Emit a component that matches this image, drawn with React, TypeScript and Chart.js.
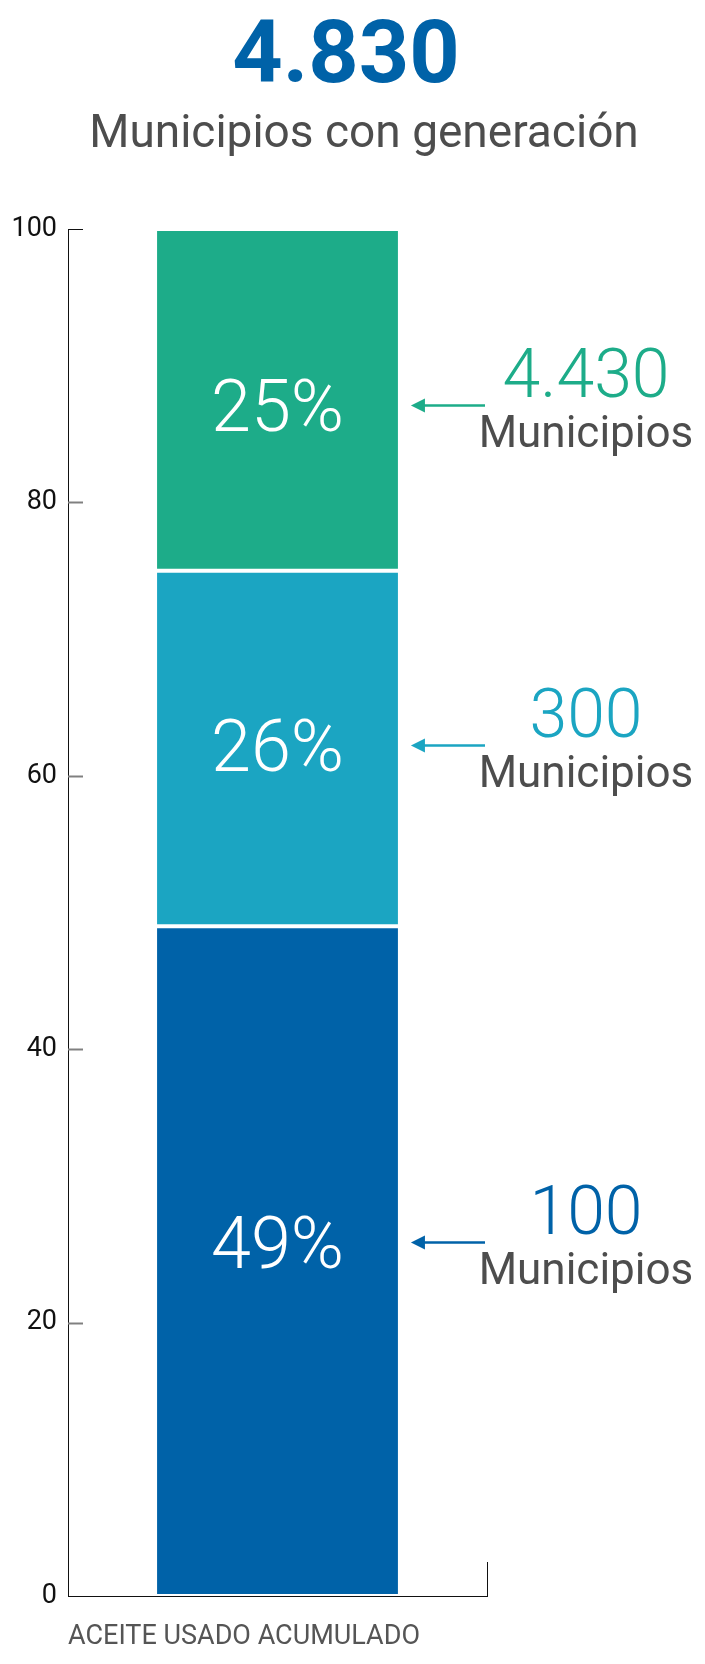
import { useEffect, useRef } from "react";
import { Chart, registerables } from "chart.js";

Chart.register(...registerables);

// values
const totalMunicipios = "4.830";
const subtitle = "Municipios con generación";
const axisTitle = "ACEITE USADO ACUMULADO";
const segmentShares = [49, 26, 25];
const segmentMunicipios = ["100", "300", "4.430"];
const segmentUnit = "Municipios";
const segmentColors = ["#0062a8", "#1ba5c2", "#1dac89"];

const FONT = "Roboto, 'Noto Sans', sans-serif";
// the callouts are not exactly on the segment middles in the original
const labelShift = [-19, -3, 5];

const annotate = {
  id: "annotate",
  afterDraw(chart: any) {
    const { ctx, chartArea } = chart;
    const yScale = chart.scales.y;
    ctx.save();

    // header
    ctx.textAlign = "center";
    ctx.textBaseline = "alphabetic";
    ctx.fillStyle = "#0062a8";
    ctx.font = `bold 88px ${FONT}`;
    ctx.fillText(totalMunicipios, 346, 82);
    ctx.fillStyle = "#4d4d4d";
    ctx.font = `400 46px ${FONT}`;
    ctx.fillText(subtitle, 364, 147);

    // short tick marks inside the plot
    yScale.ticks.forEach((t: any) => {
      if (t.value === 0) return;
      const y = Math.round(yScale.getPixelForValue(t.value)) + 0.5;
      ctx.beginPath();
      ctx.strokeStyle = t.value === 100 ? "#111" : "#808080";
      ctx.lineWidth = t.value === 100 ? 1 : 2;
      ctx.moveTo(chartArea.left, y);
      ctx.lineTo(chartArea.left + 15, y);
      ctx.stroke();
    });

    // small closing line at the right end of the x axis
    ctx.beginPath();
    ctx.strokeStyle = "#111";
    ctx.lineWidth = 1;
    ctx.moveTo(chartArea.right + 0.5, chartArea.bottom - 34);
    ctx.lineTo(chartArea.right + 0.5, chartArea.bottom);
    ctx.stroke();

    // segment labels and arrows
    chart.data.datasets.forEach((ds: any, i: number) => {
      const bar = chart.getDatasetMeta(i).data[0];
      if (!bar) return;
      const mid = (bar.y + bar.base) / 2 + labelShift[i];
      const barRight = bar.x + bar.width / 2;
      const ay = Math.round(mid) + 0.5;

      ctx.fillStyle = "#ffffff";
      ctx.font = `300 72px ${FONT}`;
      ctx.textAlign = "center";
      ctx.textBaseline = "middle";
      ctx.fillText(`${ds.data[0]}%`, bar.x, ay + 7);

      const tip = barRight + 13;
      const tail = chartArea.right - 2;
      ctx.strokeStyle = ds.backgroundColor;
      ctx.fillStyle = ds.backgroundColor;
      ctx.lineWidth = 2.5;
      ctx.beginPath();
      ctx.moveTo(tip + 10, ay);
      ctx.lineTo(tail, ay);
      ctx.stroke();
      ctx.beginPath();
      ctx.moveTo(tip, ay);
      ctx.lineTo(tip + 14, ay - 7);
      ctx.lineTo(tip + 14, ay + 7);
      ctx.closePath();
      ctx.fill();

      const cx = chartArea.right + 99;
      ctx.textBaseline = "alphabetic";
      ctx.font = `300 68px ${FONT}`;
      ctx.fillText(segmentMunicipios[i], cx, ay - 9);
      ctx.fillStyle = "#4d4d4d";
      ctx.font = `400 44px ${FONT}`;
      ctx.fillText(segmentUnit, cx, ay + 41);
    });

    ctx.restore();
  },
};

export default function App() {
  const ref = useRef<HTMLCanvasElement>(null);

  useEffect(() => {
    let chart: Chart | undefined;
    if (ref.current) {
      chart = new Chart(ref.current, {
        type: "bar",
        data: {
          labels: [""],
          datasets: segmentShares.map((v, i) => ({
            label: segmentMunicipios[i],
            data: [v],
            backgroundColor: segmentColors[i],
            borderColor: "#ffffff",
            borderWidth: { top: 2, bottom: 2, left: 0, right: 0 },
            borderSkipped: false,
            barPercentage: 0.575,
            categoryPercentage: 1,
          })),
        },
        options: {
          animation: false,
          responsive: true,
          maintainAspectRatio: false,
          layout: { padding: { top: 229, right: 218, left: 0, bottom: 0 } },
          plugins: {
            legend: { display: false },
            tooltip: { enabled: false },
          },
          scales: {
            x: {
              stacked: true,
              grid: { display: false },
              border: { display: true, color: "#111", width: 1 },
              ticks: { display: false },
              afterFit: (s: any) => {
                s.height = 68;
              },
              title: {
                display: true,
                text: axisTitle,
                align: "start",
                color: "#555",
                font: { family: FONT, size: 27, lineHeight: 1.2 },
                padding: { top: 0, bottom: 11 },
              },
            },
            y: {
              stacked: true,
              min: 0,
              max: 100,
              grid: { display: false, drawTicks: false },
              border: { display: true, color: "#111", width: 1 },
              ticks: {
                stepSize: 20,
                padding: 11,
                color: "#111",
                font: { family: FONT, size: 27 },
              },
              afterFit: (s: any) => {
                s.width = 68;
              },
            },
          },
        },
        plugins: [annotate],
      });
    }
    return () => {
      chart?.destroy();
    };
  }, []);

  return (
    <div style={{ position: "absolute", left: 0, top: 0, width: 705, height: 1664, background: "#fff" }}>
      <canvas ref={ref} />
    </div>
  );
}
